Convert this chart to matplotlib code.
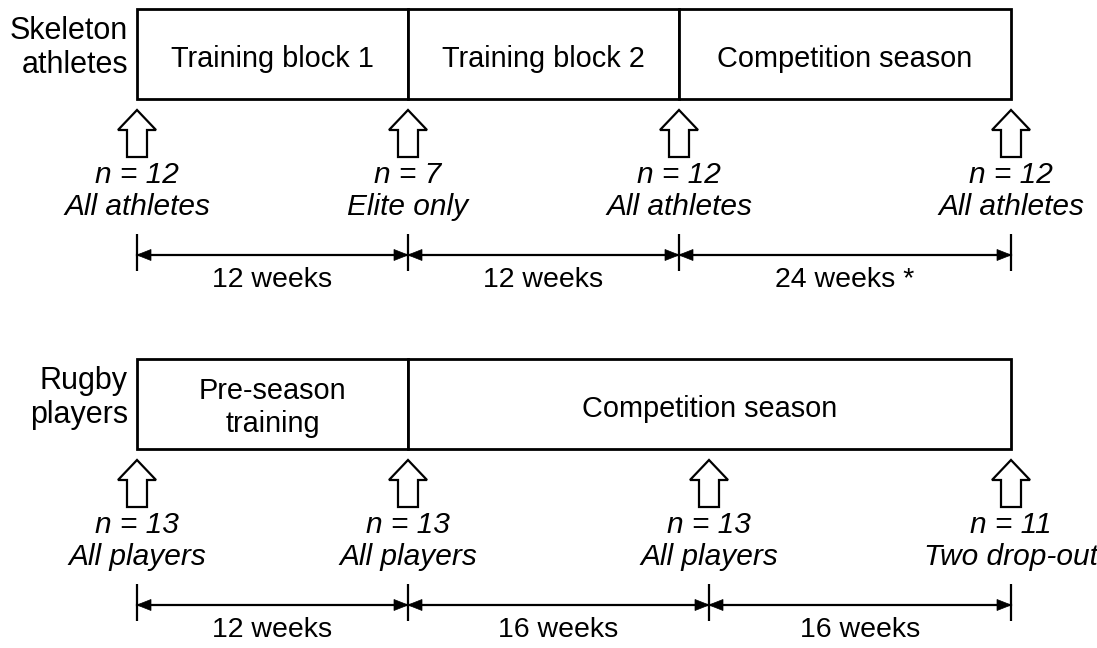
import matplotlib
matplotlib.use("Agg")
import matplotlib.pyplot as plt
from matplotlib.patches import Polygon, Rectangle

plt.rcParams['font.family'] = ['Liberation Sans', 'DejaVu Sans']

# ---- data ----
groups = [["Skeleton", "athletes"], ["Rugby", "players"]]
skel_phases = [["Training block 1"], ["Training block 2"], ["Competition season"]]
skel_n = ["n = 12", "n = 7", "n = 12", "n = 12"]
skel_who = ["All athletes", "Elite only", "All athletes", "All athletes"]
skel_weeks = ["12 weeks", "12 weeks", "24 weeks *"]
rugby_phases = [["Pre-season", "training"], ["Competition season"]]
rugby_n = ["n = 13", "n = 13", "n = 13", "n = 11"]
rugby_who = ["All players", "All players", "All players", "Two drop-out"]
rugby_weeks = ["12 weeks", "16 weeks", "16 weeks"]

# ---- layout (pixel coordinates) ----
skel_bounds = [137, 408, 679, 1011]
skel_marks = [137, 408, 679, 1011]
rugby_bounds = [137, 408, 1011]
rugby_marks = [137, 408, 709, 1011]

W, H = 1097, 648
fig = plt.figure(figsize=(W / 100, H / 100), dpi=100)
ax = fig.add_axes([0, 0, 1, 1])
ax.set_xlim(0, W)
ax.set_ylim(H, 0)
ax.axis('off')

FS_BOX = 20.8
FS_IT = 21.5
FS_WK = 20.5
FS_GRP = 22
LW_BOX = 2.0
LW_LINE = 1.6


def hollow_arrow(x, y_tip, y_bot):
    hw, sw, hl = 19, 10, 20
    pts = [(x, y_tip), (x + hw, y_tip + hl), (x + sw, y_tip + hl), (x + sw, y_bot),
           (x - sw, y_bot), (x - sw, y_tip + hl), (x - hw, y_tip + hl)]
    ax.add_patch(Polygon(pts, closed=True, fc='white', ec='black', lw=LW_LINE, joinstyle='miter'))


def dim_line(xs, y, labels):
    for x in xs:
        ax.plot([x, x], [y - 21, y + 16], color='black', lw=LW_LINE, solid_capstyle='butt')
    for i, (a, b) in enumerate(zip(xs[:-1], xs[1:])):
        ax.plot([a, b], [y, y], color='black', lw=LW_LINE)
        hl, hw = 14, 5.5
        ax.add_patch(Polygon([(a, y), (a + hl, y - hw), (a + hl, y + hw)], closed=True, fc='black', ec='black', lw=0.5))
        ax.add_patch(Polygon([(b, y), (b - hl, y - hw), (b - hl, y + hw)], closed=True, fc='black', ec='black', lw=0.5))
        ax.text((a + b) / 2, y + 32, labels[i], ha='center', va='baseline', fontsize=FS_WK)


def timeline(y0, bounds, phases, marks, ns, whos, weeks, label):
    y_top, y_bot = y0, y0 + 90
    for i, (a, b) in enumerate(zip(bounds[:-1], bounds[1:])):
        ax.add_patch(Rectangle((a, y_top), b - a, y_bot - y_top, fc='white', ec='black', lw=LW_BOX))
        lines = phases[i]
        if len(lines) == 1:
            bases = [y_top + 58]
        else:
            bases = [y_top + 40, y_top + 73]
        for t, yb in zip(lines, bases):
            ax.text((a + b) / 2, yb, t, ha='center', va='baseline', fontsize=FS_BOX)
    for t, yb in zip(label, [y_top + 30, y_top + 64]):
        ax.text(128, yb, t, ha='right', va='baseline', fontsize=FS_GRP)
    for x, n, w in zip(marks, ns, whos):
        hollow_arrow(x, y_bot + 11, y_bot + 58)
        ax.text(x, y_bot + 84, n, ha='center', va='baseline', fontsize=FS_IT, style='italic')
        ax.text(x, y_bot + 116, w, ha='center', va='baseline', fontsize=FS_IT, style='italic')
    dim_line(marks, y_bot + 156, weeks)


timeline(9, skel_bounds, skel_phases, skel_marks, skel_n, skel_who, skel_weeks, groups[0])
timeline(359, rugby_bounds, rugby_phases, rugby_marks, rugby_n, rugby_who, rugby_weeks, groups[1])

fig.savefig("out.png", dpi=100, facecolor='white')
